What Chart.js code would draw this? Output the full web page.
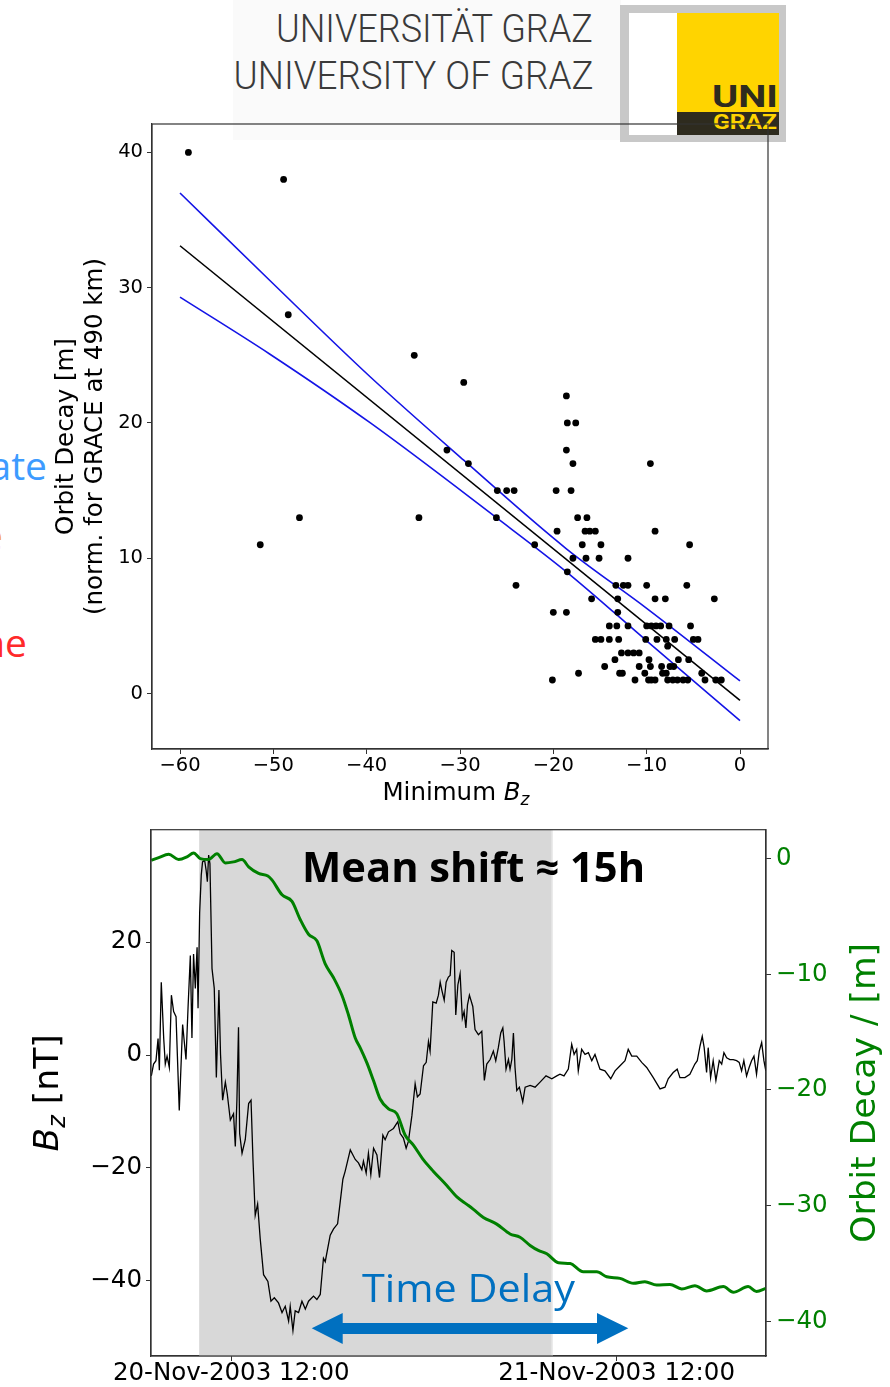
<!DOCTYPE html>
<html lang="de">
<head>
<meta charset="utf-8">
<title>Orbit Decay / Bz</title>
<script src="https://cdn.jsdelivr.net/npm/chart.js@4.4.1/dist/chart.umd.min.js"></script>
<style>
  body { margin: 0; background: #fff; }
  #page { position: relative; width: 890px; height: 1387px; overflow: hidden; background: #fff; }
  .abs { position: absolute; white-space: nowrap; line-height: 1; }
  .box { position: absolute; }
  canvas { position: absolute; left: 0; }
</style>
</head>
<body>
<div id="page">
  <!-- ヘッダー (大学ロゴ) -->
  <div class="box" style="left:233px;top:0;width:388px;height:140px;background:#fafafa"></div>
  <div class="abs fit" data-w="317" style="right:297px;top:10px;font-family:Roboto;font-weight:300;font-size:38px;color:#3a3a3a;transform-origin:right center">UNIVERSITÄT GRAZ</div>
  <div class="abs fit" data-w="360" style="right:297px;top:57px;font-family:Roboto;font-weight:300;font-size:38px;color:#3a3a3a;transform-origin:right center">UNIVERSITY OF GRAZ</div>
  <div class="box" style="left:620px;top:5px;width:166px;height:137px;background:#c8c8c8"></div>
  <div class="box" style="left:629px;top:13px;width:48px;height:122px;background:#fff"></div>
  <div class="box" style="left:677px;top:13px;width:102px;height:99px;background:#ffd400"></div>
  <div class="box" style="left:677px;top:112px;width:102px;height:23px;background:#2e2b1e"></div>
  <div class="abs fit" data-w="66" style="left:712px;top:80px;font-family:Roboto;font-weight:700;font-size:32px;color:#2e2b1e;transform-origin:left center">UNI</div>
  <div class="abs fit" data-w="64" style="left:713px;top:112px;font-family:Roboto;font-weight:700;font-size:20px;color:#ffd400;transform-origin:left center">GRAZ</div>

  <!-- 左端で切れている文字 -->
  <div class="abs" style="right:843px;top:445px;font-family:'Open Sans';font-size:39px;color:#3d9bff">ate</div>
  <div class="abs" style="right:887px;top:515px;font-family:'Open Sans';font-size:39px;color:#f5a030">e</div>
  <div class="abs" style="right:863px;top:622px;font-family:'Open Sans';font-size:39px;color:#ff2a2a">ne</div>

  <canvas id="scatter" width="890" height="810" style="top:0"></canvas>
  <canvas id="series" width="890" height="577" style="top:810px"></canvas>

  <!-- 注釈 -->
  <div class="abs fit" data-w="343" style="left:302px;top:846px;font-family:'Open Sans';font-weight:700;font-size:41px;color:#000;transform-origin:left center">Mean shift ≈ 15h</div>
  <div class="abs fit" data-w="213" style="left:362px;top:1267px;font-family:'Open Sans';font-size:39px;color:#0070c0;transform-origin:left center">Time Delay</div>
  <svg class="box" style="left:0;top:0" width="890" height="1387">
    <polygon fill="#0070c0" points="311.7,1328.3 342.7,1313 342.7,1323 597,1323 597,1313 628.3,1328.3 597,1344 597,1334 342.7,1334 342.7,1344"/>
  </svg>
</div>

<script>
// 散布図: 最小Bz と 軌道減衰
const minBz = [-59.1, -48.9, -48.4, -34.9, -51.4, -47.2, -34.4, -31.4, -29.6, -29.1,
  -26.0, -25.0, -24.2, -26.1, -22.0, -24.0, -18.6, -18.5, -17.6, -18.6,
  -17.9, -9.6, -19.7, -18.1, -17.4, -16.4, -19.6, -16.6, -16.1, -15.5,
  -9.1, -16.9, -14.9, -5.4, -17.9, -16.5, -15.1, -12.0, -18.5, -13.3,
  -12.5, -12.0, -10.0, -5.7, -15.9, -13.1, -9.1, -8.0, -2.75, -20.0,
  -18.6, -13.1, -14.0, -13.2, -12.0, -10.0, -9.5, -9.0, -8.5, -7.6,
  -5.3, -15.5, -14.9, -14.0, -13.0, -10.1, -8.9, -7.9, -7.0, -5.0,
  -4.5, -7.75, -12.7, -12.0, -11.4, -10.8, -13.4, -9.75, -6.6, -5.5,
  -14.5, -10.8, -9.6, -8.4, -7.5, -7.1, -17.3, -12.9, -12.6, -10.2,
  -8.3, -7.9, -4.1, -20.1, -11.25, -9.8, -9.5, -9.1, -7.75, -7.2,
  -6.7, -6.1, -5.6, -3.75, -2.6, -2.0];
const decayMeters = [40, 38, 28, 25, 11, 13, 13, 18, 23, 17,
  15, 15, 15, 13, 11, 8, 22, 20, 20, 18,
  17, 17, 15, 15, 13, 13, 12, 12, 12, 12,
  12, 11, 11, 11, 10, 10, 10, 10, 9, 8,
  8, 8, 8, 8, 7, 7, 7, 7, 7, 6,
  6, 6, 5, 5, 5, 5, 5, 5, 5, 5,
  5, 4, 4, 4, 4, 4, 4, 4, 4, 4,
  4, 3.5, 3, 3, 3, 3, 2.5, 2.5, 2.5, 2.5,
  2, 2, 2, 2, 2, 2, 1.5, 1.5, 1.5, 1.5,
  1.5, 1.5, 1.5, 1, 1, 1, 1, 1, 1, 1,
  1, 1, 1, 1, 1, 1];
// 回帰直線と信頼区間
const fitBz = [-60, 0];
const fitDecay = [33.1, -0.5];
const upperBz = [-60, -50.4, -39.6, -29.6, -18.6, -10, 0];
const upperDecay = [37.0, 30.55, 23.4, 17.25, 10.7, 6.3, 0.93];
const lowerBz = [-60, -50.4, -39.6, -26.1, -18.6, -10, 0];
const lowerDecay = [29.3, 25.1, 20.0, 13.0, 9.0, 3.9, -2.0];
const scatterXTicks = [-60, -50, -40, -30, -20, -10, 0];
const scatterYTicks = [0, 10, 20, 30, 40];
const scatterYTitle = ['Orbit Decay [m]', '(norm. for GRACE at 490 km)'];

// 時系列: 2003年11月20日 0時からの経過時間 [h]
const bzHours = [7.02, 7.16, 7.31, 7.44, 7.52, 7.64, 7.79, 7.89, 8.00, 8.14,
  8.27, 8.41, 8.56, 8.76, 8.97, 9.18, 9.31, 9.45, 9.55, 9.65,
  9.76, 9.87, 9.93, 10.03, 10.13, 10.21, 10.34, 10.43, 10.51, 10.59,
  10.67, 10.80, 10.94, 11.07, 11.23, 11.33, 11.46, 11.63, 11.75, 11.94,
  12.14, 12.25, 12.35, 12.45, 12.52, 12.67, 12.87, 13.08, 13.23, 13.35,
  13.49, 13.64, 13.80, 14.01, 14.28, 14.47, 14.68, 14.94, 15.16, 15.36,
  15.57, 15.67, 15.84, 15.98, 16.19, 16.40, 16.61, 16.81, 17.12, 17.33,
  17.54, 17.74, 17.85, 18.16, 18.37, 18.62, 18.78, 18.95, 19.09, 19.41,
  19.72, 19.92, 20.13, 20.23, 20.40, 20.54, 20.69, 20.86, 21.07, 21.23,
  21.44, 21.58, 21.79, 22.10, 22.37, 22.52, 22.72, 22.89, 23.03, 23.25,
  23.45, 23.59, 23.76, 23.97, 24.14, 24.28, 24.38, 24.55, 24.76, 24.90,
  25.01, 25.11, 25.26, 25.38, 25.52, 25.63, 25.73, 25.88, 25.98, 26.11,
  26.25, 26.39, 26.50, 26.61, 26.71, 26.83, 27.04, 27.18, 27.39, 27.60,
  27.76, 27.91, 28.12, 28.32, 28.47, 28.63, 28.78, 28.91, 28.99, 29.11,
  29.26, 29.36, 29.47, 29.57, 29.67, 29.78, 29.94, 30.15, 30.30, 30.61,
  30.92, 31.23, 31.60, 31.96, 32.27, 32.47, 32.72, 32.99, 33.20, 33.35,
  33.51, 33.61, 33.82, 34.03, 34.24, 34.45, 34.65, 34.96, 35.27, 35.63,
  35.90, 36.21, 36.52, 36.72, 36.94, 37.25, 37.56, 37.87, 38.28, 38.70,
  39.01, 39.21, 39.52, 39.77, 39.94, 40.25, 40.56, 40.87, 41.02, 41.19,
  41.33, 41.45, 41.60, 41.70, 41.85, 42.01, 42.18, 42.39, 42.54, 42.68,
  42.85, 43.05, 43.26, 43.47, 43.63, 43.78, 43.92, 44.09, 44.25, 44.40,
  44.55, 44.71, 44.88, 45.03, 45.17, 45.29];
const bzValues = [-3.7, -1.6, -1.0, 2.9, -2.7, 12.9, 3.0, -1.6, -0.2, -2.2,
  10.6, 7.7, 6.8, -9.8, 5.4, -0.8, 8.6, 17.6, 3.0, 17.9,
  11.8, 19.1, 8.3, 25.2, 31.9, 34.2, 34.5, 32.8, 30.7, 35.4,
  33.9, 15.3, 11.8, -4.0, 11.5, 0.1, -8.0, -4.8, -6.9, -11.5,
  -10.4, -16.2, -8.0, 4.9, -13.9, -17.4, -15.0, -8.6, -8.0, -18.5,
  -28.4, -26.4, -32.5, -38.9, -40.1, -43.6, -43.0, -43.9, -45.6, -44.5,
  -47.1, -44.5, -48.8, -45.3, -45.6, -43.6, -45.0, -43.6, -42.7, -43.3,
  -42.4, -36.0, -36.6, -31.9, -30.8, -29.9, -26.1, -22.0, -20.6, -16.8,
  -18.5, -19.1, -20.3, -18.8, -20.9, -17.4, -21.2, -16.5, -17.7, -21.7,
  -14.2, -15.0, -13.6, -13.0, -11.8, -13.9, -14.7, -16.5, -15.3, -10.7,
  -5.1, -7.4, -6.9, -1.9, -1.3, 2.4, 0.7, 9.4, 9.2, 10.6,
  12.9, 11.5, 9.7, 12.9, 13.8, 14.1, 18.5, 18.2, 7.1, 12.4,
  14.4, 6.5, 7.7, 4.8, 8.9, 10.6, 8.6, 4.5, 3.6, 4.2,
  -4.5, -1.6, -0.8, 0.7, -1.0, 1.3, 3.9, 4.8, 2.4, -2.5,
  -0.8, -2.5, -0.8, 3.9, -2.2, -6.3, -5.7, -8.3, -5.7, -5.4,
  -5.7, -4.8, -3.7, -4.2, -3.7, -3.4, -3.7, -2.5, 1.9, 0.1,
  1.0, -2.8, 1.0, 0.1, 0.4, -1.0, 0.1, -2.5, -2.8, -4.2,
  -2.8, -1.9, -1.0, 1.0, -0.2, -0.2, -1.3, -2.2, -4.0, -6.0,
  -5.7, -4.2, -3.1, -2.5, -4.0, -4.0, -3.4, -1.6, -1.0, 1.6,
  3.3, 1.3, -3.1, 1.3, -4.0, -1.0, -4.5, -1.0, -1.6, 0.4,
  -0.5, -0.8, -0.8, -1.0, -1.3, -2.8, -1.0, -3.7, -2.2, -1.0,
  -0.2, -3.4, 0.7, 2.2, -1.0, -2.8];
const orbitHours = [7.02, 7.48, 8.10, 8.72, 9.24, 9.65, 10.07, 10.59, 11.11, 11.63,
  12.14, 12.67, 13.08, 13.70, 14.28, 14.53, 15.16, 15.78, 16.29, 16.81,
  17.33, 17.85, 18.37, 18.89, 19.30, 19.72, 20.03, 20.44, 20.86, 21.27,
  21.79, 22.31, 22.83, 23.34, 23.97, 24.59, 25.42, 26.05, 26.67, 27.08,
  27.70, 28.53, 29.36, 29.98, 30.61, 31.12, 31.65, 32.37, 33.10, 33.92,
  34.76, 35.38, 36.21, 37.04, 37.76, 38.49, 39.32, 40.05, 40.87, 41.60,
  42.64, 43.26, 44.19, 44.71, 45.29];
const orbitValues = [-0.14, 0.09, 0.37, -0.08, 0.15, 0.49, 0.0, -0.08, 0.43, -0.37,
  -0.28, -0.08, -0.71, -1.28, -1.50, -1.84, -3.13, -3.70, -5.26, -6.54,
  -7.11, -9.10, -10.3, -11.81, -13.52, -15.51, -16.36, -17.64, -19.21, -20.78,
  -21.63, -22.06, -23.91, -24.77, -26.05, -27.04, -28.25, -29.25, -29.89, -30.32,
  -31.02, -31.60, -32.45, -32.73, -33.44, -33.87, -34.16, -34.93, -35.01, -35.72,
  -35.72, -36.15, -36.29, -36.72, -36.58, -36.86, -36.81, -37.20, -36.92, -37.37,
  -37.00, -37.49, -37.00, -37.43, -37.15];
const shadeHours = [10, 32];
const timeTicks = [12, 36];
const timeTickLabels = ['20-Nov-2003 12:00', '21-Nov-2003 12:00'];
const bzTicks = [-40, -20, 0, 20];
const orbitTicks = [-40, -30, -20, -10, 0];

const FONT = 'DejaVu Sans';
const minus = v => (v < 0 ? '\u2212' + Math.abs(v) : String(v));
const toPoints = (xs, ys) => xs.map((x, i) => ({ x: x, y: ys[i] }));

// 文字の幅を合わせる
document.querySelectorAll('.fit').forEach(el => {
  const w = el.getBoundingClientRect().width;
  el.style.transform = 'scaleX(' + (el.dataset.w / w).toFixed(3) + ')';
});

// 複数フォントの文字列を中央揃えで描く (B_z 用)
function drawRich(ctx, parts, x, y) {
  let w = 0;
  parts.forEach(p => { ctx.font = p[1]; w += ctx.measureText(p[0]).width; });
  let cx = x - w / 2;
  parts.forEach(p => {
    ctx.font = p[1];
    ctx.fillText(p[0], cx, y + (p[2] || 0));
    cx += ctx.measureText(p[0]).width;
  });
}

// 枠線
const frame = {
  id: 'frame',
  afterDraw(chart) {
    const { ctx, chartArea: a } = chart;
    ctx.save();
    ctx.strokeStyle = '#333';
    ctx.lineWidth = 1.2;
    ctx.strokeRect(a.left, a.top, a.right - a.left, a.bottom - a.top);
    ctx.restore();
  }
};

const scatterTitles = {
  id: 'scatterTitles',
  afterDraw(chart) {
    const { ctx, chartArea: a } = chart;
    ctx.save();
    ctx.fillStyle = '#000';
    ctx.textAlign = 'left';
    ctx.textBaseline = 'alphabetic';
    drawRich(ctx, [['Minimum ', '24.5px "' + FONT + '"'], ['B', 'italic 24.5px "' + FONT + '"'], ['z', 'italic 17px "' + FONT + '"', 5]], 456, 800);
    ctx.translate(0, (a.top + a.bottom) / 2);
    ctx.rotate(-Math.PI / 2);
    ctx.textAlign = 'center';
    ctx.font = '24.5px "' + FONT + '"';
    ctx.fillText(scatterYTitle[0], 0, 73);
    ctx.fillText(scatterYTitle[1], 0, 102);
    ctx.restore();
  }
};

const axisStyle = (size, color) => ({
  grid: { drawOnChartArea: false, drawTicks: true, tickLength: 5, color: '#333' },
  border: { display: true, color: '#333', width: 1.2 },
  ticks: { font: { family: FONT, size: size }, color: color, autoSkip: false, maxRotation: 0 }
});

// 散布図の生成
const sx = axisStyle(19.5, '#000');
sx.ticks.padding = 0;
sx.ticks.callback = v => minus(v);
const sy = axisStyle(19.5, '#000');
sy.ticks.padding = 4;
sy.ticks.callback = v => minus(v);

new Chart(document.getElementById('scatter'), {
  type: 'scatter',
  data: {
    datasets: [{
      data: toPoints(minBz, decayMeters),
      backgroundColor: '#000',
      pointRadius: 3.4,
      borderWidth: 0
    }, {
      type: 'line',
      data: toPoints(fitBz, fitDecay),
      borderColor: '#000',
      borderWidth: 1.6,
      pointRadius: 0
    }, {
      type: 'line',
      data: toPoints(upperBz, upperDecay),
      borderColor: '#1414e6',
      borderWidth: 1.6,
      pointRadius: 0,
      cubicInterpolationMode: 'monotone'
    }, {
      type: 'line',
      data: toPoints(lowerBz, lowerDecay),
      borderColor: '#1414e6',
      borderWidth: 1.6,
      pointRadius: 0,
      cubicInterpolationMode: 'monotone'
    }]
  },
  options: {
    responsive: false,
    animation: false,
    layout: { padding: { top: 124, right: 122, left: 0, bottom: 0 } },
    plugins: { legend: { display: false }, tooltip: { enabled: false } },
    scales: {
      x: Object.assign(sx, {
        type: 'linear', min: -63, max: 3,
        afterBuildTicks: s => { s.ticks = scatterXTicks.map(v => ({ value: v })); },
        afterFit: s => { s.height = 61; }
      }),
      y: Object.assign(sy, {
        type: 'linear', min: -4.1, max: 42.1,
        afterBuildTicks: s => { s.ticks = scatterYTicks.map(v => ({ value: v })); },
        afterFit: s => { s.width = 152; }
      })
    }
  },
  plugins: [frame, scatterTitles]
});

// 時系列の網掛け
const shadeWindow = {
  id: 'shadeWindow',
  beforeDatasetsDraw(chart) {
    const { ctx, chartArea: a, scales } = chart;
    const x0 = scales.x.getPixelForValue(shadeHours[0]);
    const x1 = scales.x.getPixelForValue(shadeHours[1]);
    ctx.save();
    ctx.fillStyle = '#d8d8d8';
    ctx.fillRect(x0, a.top, x1 - x0, a.bottom - a.top);
    ctx.fillStyle = '#ececec';
    ctx.fillRect(x1 - 1, a.top, 1.5, a.bottom - a.top);
    ctx.restore();
  }
};

const seriesTitles = {
  id: 'seriesTitles',
  afterDraw(chart) {
    const { ctx, chartArea: a } = chart;
    const cy = (a.top + a.bottom) / 2;
    ctx.save();
    ctx.textBaseline = 'alphabetic';
    ctx.translate(0, cy);
    ctx.rotate(-Math.PI / 2);
    ctx.textAlign = 'left';
    ctx.fillStyle = '#000';
    drawRich(ctx, [['B', 'italic 34.5px "' + FONT + '"'], ['z', 'italic 24px "' + FONT + '"', 7], [' [nT]', '34.5px "' + FONT + '"']], 0, 58);
    ctx.textAlign = 'center';
    ctx.fillStyle = '#008000';
    ctx.font = '34.5px "' + FONT + '"';
    ctx.fillText('Orbit Decay / [m]', 0, 875);
    ctx.restore();
  }
};

const tx = axisStyle(24.5, '#000');
tx.ticks.font.lineHeight = 1;
tx.ticks.padding = 0;
tx.ticks.callback = v => timeTickLabels[timeTicks.indexOf(v)];
const ty = axisStyle(24.5, '#000');
ty.ticks.padding = 4;
ty.ticks.callback = v => minus(v);
const ty1 = axisStyle(24.5, '#008000');
ty1.ticks.padding = 5;
ty1.ticks.callback = v => minus(v);

new Chart(document.getElementById('series'), {
  type: 'line',
  data: {
    datasets: [{
      data: toPoints(orbitHours, orbitValues),
      yAxisID: 'y1',
      borderColor: '#008000',
      borderWidth: 3,
      pointRadius: 0,
      cubicInterpolationMode: 'monotone'
    }, {
      data: toPoints(bzHours, bzValues),
      yAxisID: 'y',
      borderColor: '#000',
      borderWidth: 1.3,
      pointRadius: 0,
      tension: 0
    }]
  },
  options: {
    responsive: false,
    animation: false,
    layout: { padding: { top: 13, right: 0, left: 0, bottom: 0 } },
    plugins: { legend: { display: false }, tooltip: { enabled: false } },
    scales: {
      x: Object.assign(tx, {
        type: 'linear', min: 7.0, max: 45.3,
        afterBuildTicks: s => { s.ticks = timeTicks.map(v => ({ value: v })); },
        afterFit: s => { s.height = 31; }
      }),
      y: Object.assign(ty, {
        type: 'linear', position: 'left', min: -53.3, max: 39.9,
        afterBuildTicks: s => { s.ticks = bzTicks.map(v => ({ value: v })); },
        afterFit: s => { s.width = 151; }
      }),
      y1: Object.assign(ty1, {
        type: 'linear', position: 'right', min: -43.0, max: 2.5,
        afterBuildTicks: s => { s.ticks = orbitTicks.map(v => ({ value: v })); },
        afterFit: s => { s.width = 124; }
      })
    }
  },
  plugins: [shadeWindow, frame, seriesTitles]
});
</script>
</body>
</html>
